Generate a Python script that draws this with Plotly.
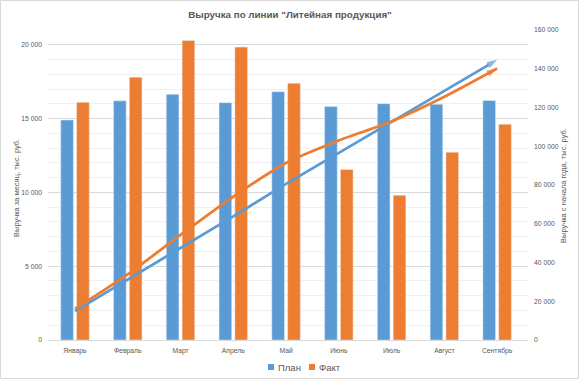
import plotly.graph_objects as go

months = ["Январь", "Февраль", "Март", "Апрель", "Май", "Июнь", "Июль", "Август", "Сентябрь"]
plan = [14900, 16200, 16640, 16080, 16820, 15810, 16010, 15970, 16220]
fact = [16100, 17800, 20290, 19840, 17390, 11550, 9800, 12720, 14620]
plan_cum = [14900, 31100, 47700, 63800, 80600, 96500, 112500, 128400, 144600]
fact_cum = [16100, 33900, 54200, 74000, 91400, 103000, 112800, 125500, 140100]
series_names = ["План", "Факт"]

BLUE = "#5B9BD5"
ORANGE = "#ED7D31"
GRAY = "#595959"
FONT = "Liberation Sans"

fig = go.Figure()
fig.add_trace(go.Bar(x=months, y=plan, name=series_names[0], marker=dict(color=BLUE), yaxis="y", showlegend=False))
fig.add_trace(go.Bar(x=months, y=fact, name=series_names[1], marker=dict(color=ORANGE), yaxis="y", showlegend=False))

n = len(months)
sizes = [0] * (n - 1) + [11]
fig.add_trace(go.Scatter(x=months, y=plan_cum, yaxis="y2", mode="lines+markers", showlegend=False,
                         line=dict(color=BLUE, width=2.8),
                         marker=dict(symbol="arrow", angleref="previous", size=sizes, color=BLUE, line=dict(width=0))))
fig.add_trace(go.Scatter(x=months, y=fact_cum, yaxis="y2", mode="lines+markers", showlegend=False,
                         line=dict(color=ORANGE, width=2.8, shape="spline", smoothing=0.6),
                         marker=dict(symbol="arrow", angleref="previous", size=sizes, color=ORANGE, line=dict(width=0))))

L, R, T, B = 48, 52, 30, 41
W, H = 580, 381
pw, ph = W - L - R, H - T - B

def px_x(x):
    return (x - L) / pw

def px_y(y):
    return (T + ph - y) / ph

# manual legend (small squares like the original)
legend_shapes = []
legend_annots = []
for name, color, sx in [(series_names[0], BLUE, 268), (series_names[1], ORANGE, 309)]:
    legend_shapes.append(dict(type="rect", xref="paper", yref="paper",
                              x0=px_x(sx), x1=px_x(sx + 6), y0=px_y(370), y1=px_y(364),
                              line=dict(width=0), fillcolor=color))
    legend_annots.append(dict(text=name, xref="paper", yref="paper", x=px_x(sx + 8), y=px_y(367),
                              showarrow=False, xanchor="left", yanchor="middle",
                              font=dict(size=9.5, color=GRAY)))

fig.update_layout(
    width=W, height=H,
    margin=dict(l=L, r=R, t=T, b=B, pad=0, autoexpand=False),
    paper_bgcolor="white", plot_bgcolor="white",
    separators=", ",
    showlegend=False,
    font=dict(family=FONT, color=GRAY, size=7),
    title=dict(text='<b>Выручка по линии "Литейная продукция"</b>', x=0.5, xanchor="center",
               y=1 - 15 / H, yanchor="middle", font=dict(size=9.8, color=GRAY, family=FONT)),
    barmode="group", bargap=0.4, bargroupgap=0.2,
    xaxis=dict(showgrid=False, showline=True, linecolor="#d9d9d9", linewidth=1, automargin=False,
               ticks="", tickfont=dict(size=6.8, color=GRAY), ticklabelstandoff=4),
    yaxis=dict(range=[0, 21000], tickvals=[0, 5000, 10000, 15000, 20000], tickformat=",d",
               showgrid=True, gridcolor="#d9d9d9", gridwidth=1, zeroline=False, automargin=False,
               showline=False, ticks="", tickfont=dict(size=6.8, color=GRAY), ticklabelstandoff=5,
               minor=dict(dtick=1000, tick0=0, showgrid=True, gridcolor="#f0f0f0", gridwidth=1)),
    yaxis2=dict(range=[0, 160000], dtick=20000, tickformat=",d", overlaying="y", side="right",
                showgrid=False, zeroline=False, showline=False, ticks="", automargin=False,
                tickfont=dict(size=6.8, color=GRAY), ticklabelstandoff=5),
    annotations=[
        dict(text="Выручка за месяц, тыс. руб.", xref="paper", yref="paper", x=px_x(16), y=px_y(188),
             showarrow=False, textangle=-90, font=dict(size=7.5, color=GRAY), xanchor="center", yanchor="middle"),
        dict(text="Выручка с начала года, тыс. руб.", xref="paper", yref="paper", x=px_x(564), y=px_y(186),
             showarrow=False, textangle=-90, font=dict(size=7.5, color=GRAY), xanchor="center", yanchor="middle"),
    ] + legend_annots,
    shapes=[dict(type="rect", xref="paper", yref="paper",
                 x0=px_x(0.5), x1=px_x(578.5), y0=px_y(378.5), y1=px_y(0.5),
                 line=dict(color="#d9d9d9", width=1), fillcolor="rgba(0,0,0,0)", layer="below")] + legend_shapes,
)

fig.write_html("out.html", config={"displayModeBar": False},
               post_script="document.body.style.margin='0';")
